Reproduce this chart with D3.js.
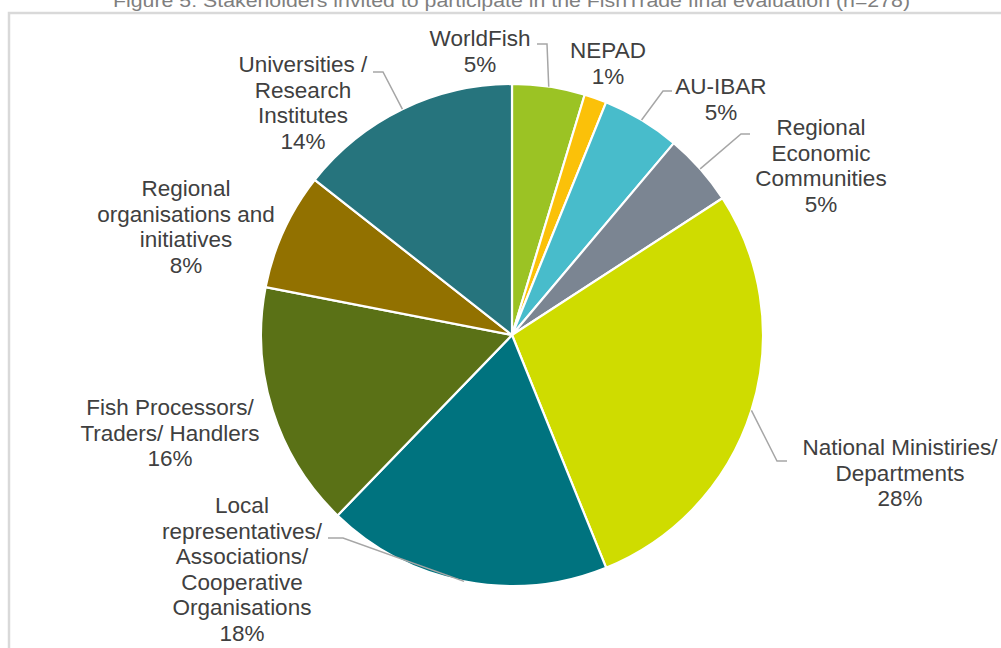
<!DOCTYPE html>
<html>
<head>
<meta charset="utf-8">
<script src="https://cdn.jsdelivr.net/npm/d3@7"></script>
<style>
  html, body { margin: 0; padding: 0; background: #ffffff; }
  svg { display: block; }
</style>
</head>
<body>
<svg id="chart" width="1001" height="648"></svg>
<script>
// ---- data ----
const titleText = "Figure 5: Stakeholders invited to participate in the FishTrade final evaluation (n=278)";
const categories = [
  "WorldFish",
  "NEPAD",
  "AU-IBAR",
  "Regional Economic Communities",
  "National Ministiries/ Departments",
  "Local representatives/ Associations/ Cooperative Organisations",
  "Fish Processors/ Traders/ Handlers",
  "Regional organisations and initiatives",
  "Universities / Research Institutes"
];
const labelLines = [
  ["WorldFish"],
  ["NEPAD"],
  ["AU-IBAR"],
  ["Regional", "Economic", "Communities"],
  ["National Ministiries/", "Departments"],
  ["Local", "representatives/", "Associations/", "Cooperative", "Organisations"],
  ["Fish Processors/", "Traders/ Handlers"],
  ["Regional", "organisations and", "initiatives"],
  ["Universities /", "Research", "Institutes"]
];
const counts = [13, 4, 14, 13, 78, 51, 44, 21, 40];   // n = 278
const colors = ["#9bc324", "#fbc109", "#48bccb", "#7b8592", "#cfdc00",
                "#00737f", "#5a7116", "#927100", "#26747d"];

// ---- layout (label placement, as in the reference) ----
const labelLayout = [
  { cx: 480, y0: 46,  lead: { x0: 537, x1: 547, y: 44 } },
  { cx: 608, y0: 58,  lead: null },
  { cx: 721, y0: 94,  lead: { x0: 672, x1: 663, y: 91 } },
  { cx: 821, y0: 135, lead: { x0: 750, x1: 741, y: 134 } },
  { cx: 900, y0: 455, lead: { x0: 787, x1: 777, y: 461 } },
  { cx: 242, y0: 513, lead: { x0: 328, x1: 343, y: 538 } },
  { cx: 170, y0: 415, lead: null },
  { cx: 186, y0: 196, lead: null },
  { cx: 303, y0: 72,  lead: { x0: 373, x1: 383, y: 72 } }
];

const W = 1001, H = 648;
const cx = 512, cy = 335, R = 251;
const lineH = 25.6;

const svg = d3.select("#chart");

// frame
svg.append("rect")
  .attr("x", 9).attr("y", 13)
  .attr("width", 1100).attr("height", 800)
  .attr("fill", "none")
  .attr("stroke", "#d9d9d9")
  .attr("stroke-width", 2.5);

// title (clipped at top, as in the reference)
svg.append("text")
  .attr("x", 511.5).attr("y", 7)
  .attr("text-anchor", "middle")
  .attr("font-family", "Liberation Sans, Arial, sans-serif")
  .attr("font-size", 18)
  .attr("fill", "#7f7f7f")
  .attr("textLength", 797)
  .attr("lengthAdjust", "spacingAndGlyphs")
  .text(titleText);

const total = d3.sum(counts);
const data = categories.map((c, i) => ({ name: c, value: counts[i], i }));

const pie = d3.pie().value(d => d.value).sort(null).startAngle(0).endAngle(2 * Math.PI);
const arcs = pie(data);
const arc = d3.arc().innerRadius(0).outerRadius(R);

const g = svg.append("g").attr("transform", `translate(${cx},${cy})`);

g.selectAll("path.slice")
  .data(arcs)
  .join("path")
  .attr("class", "slice")
  .attr("d", arc)
  .attr("fill", d => colors[d.data.i])
  .attr("stroke", "#ffffff")
  .attr("stroke-width", 2.2)
  .attr("stroke-linejoin", "round");

// leader lines
const pct = v => Math.round(v / total * 100) + "%";
arcs.forEach(a => {
  const L = labelLayout[a.data.i];
  if (!L.lead) return;
  const mid = (a.startAngle + a.endAngle) / 2;
  const px = cx + R * Math.sin(mid);
  const py = cy - R * Math.cos(mid);
  svg.append("polyline")
    .attr("points", `${L.lead.x0},${L.lead.y} ${L.lead.x1},${L.lead.y} ${px},${py}`)
    .attr("fill", "none")
    .attr("stroke", "#a6a6a6")
    .attr("stroke-width", 1.5);
});

// labels
arcs.forEach(a => {
  const i = a.data.i;
  const L = labelLayout[i];
  const lines = labelLines[i].concat([pct(a.data.value)]);
  const t = svg.append("text")
    .attr("text-anchor", "middle")
    .attr("font-family", "Liberation Sans, Arial, sans-serif")
    .attr("font-size", 22.5)
    .attr("fill", "#404040");
  lines.forEach((ln, k) => {
    t.append("tspan")
      .attr("x", L.cx)
      .attr("y", L.y0 + k * lineH)
      .text(ln);
  });
});
</script>
</body>
</html>
